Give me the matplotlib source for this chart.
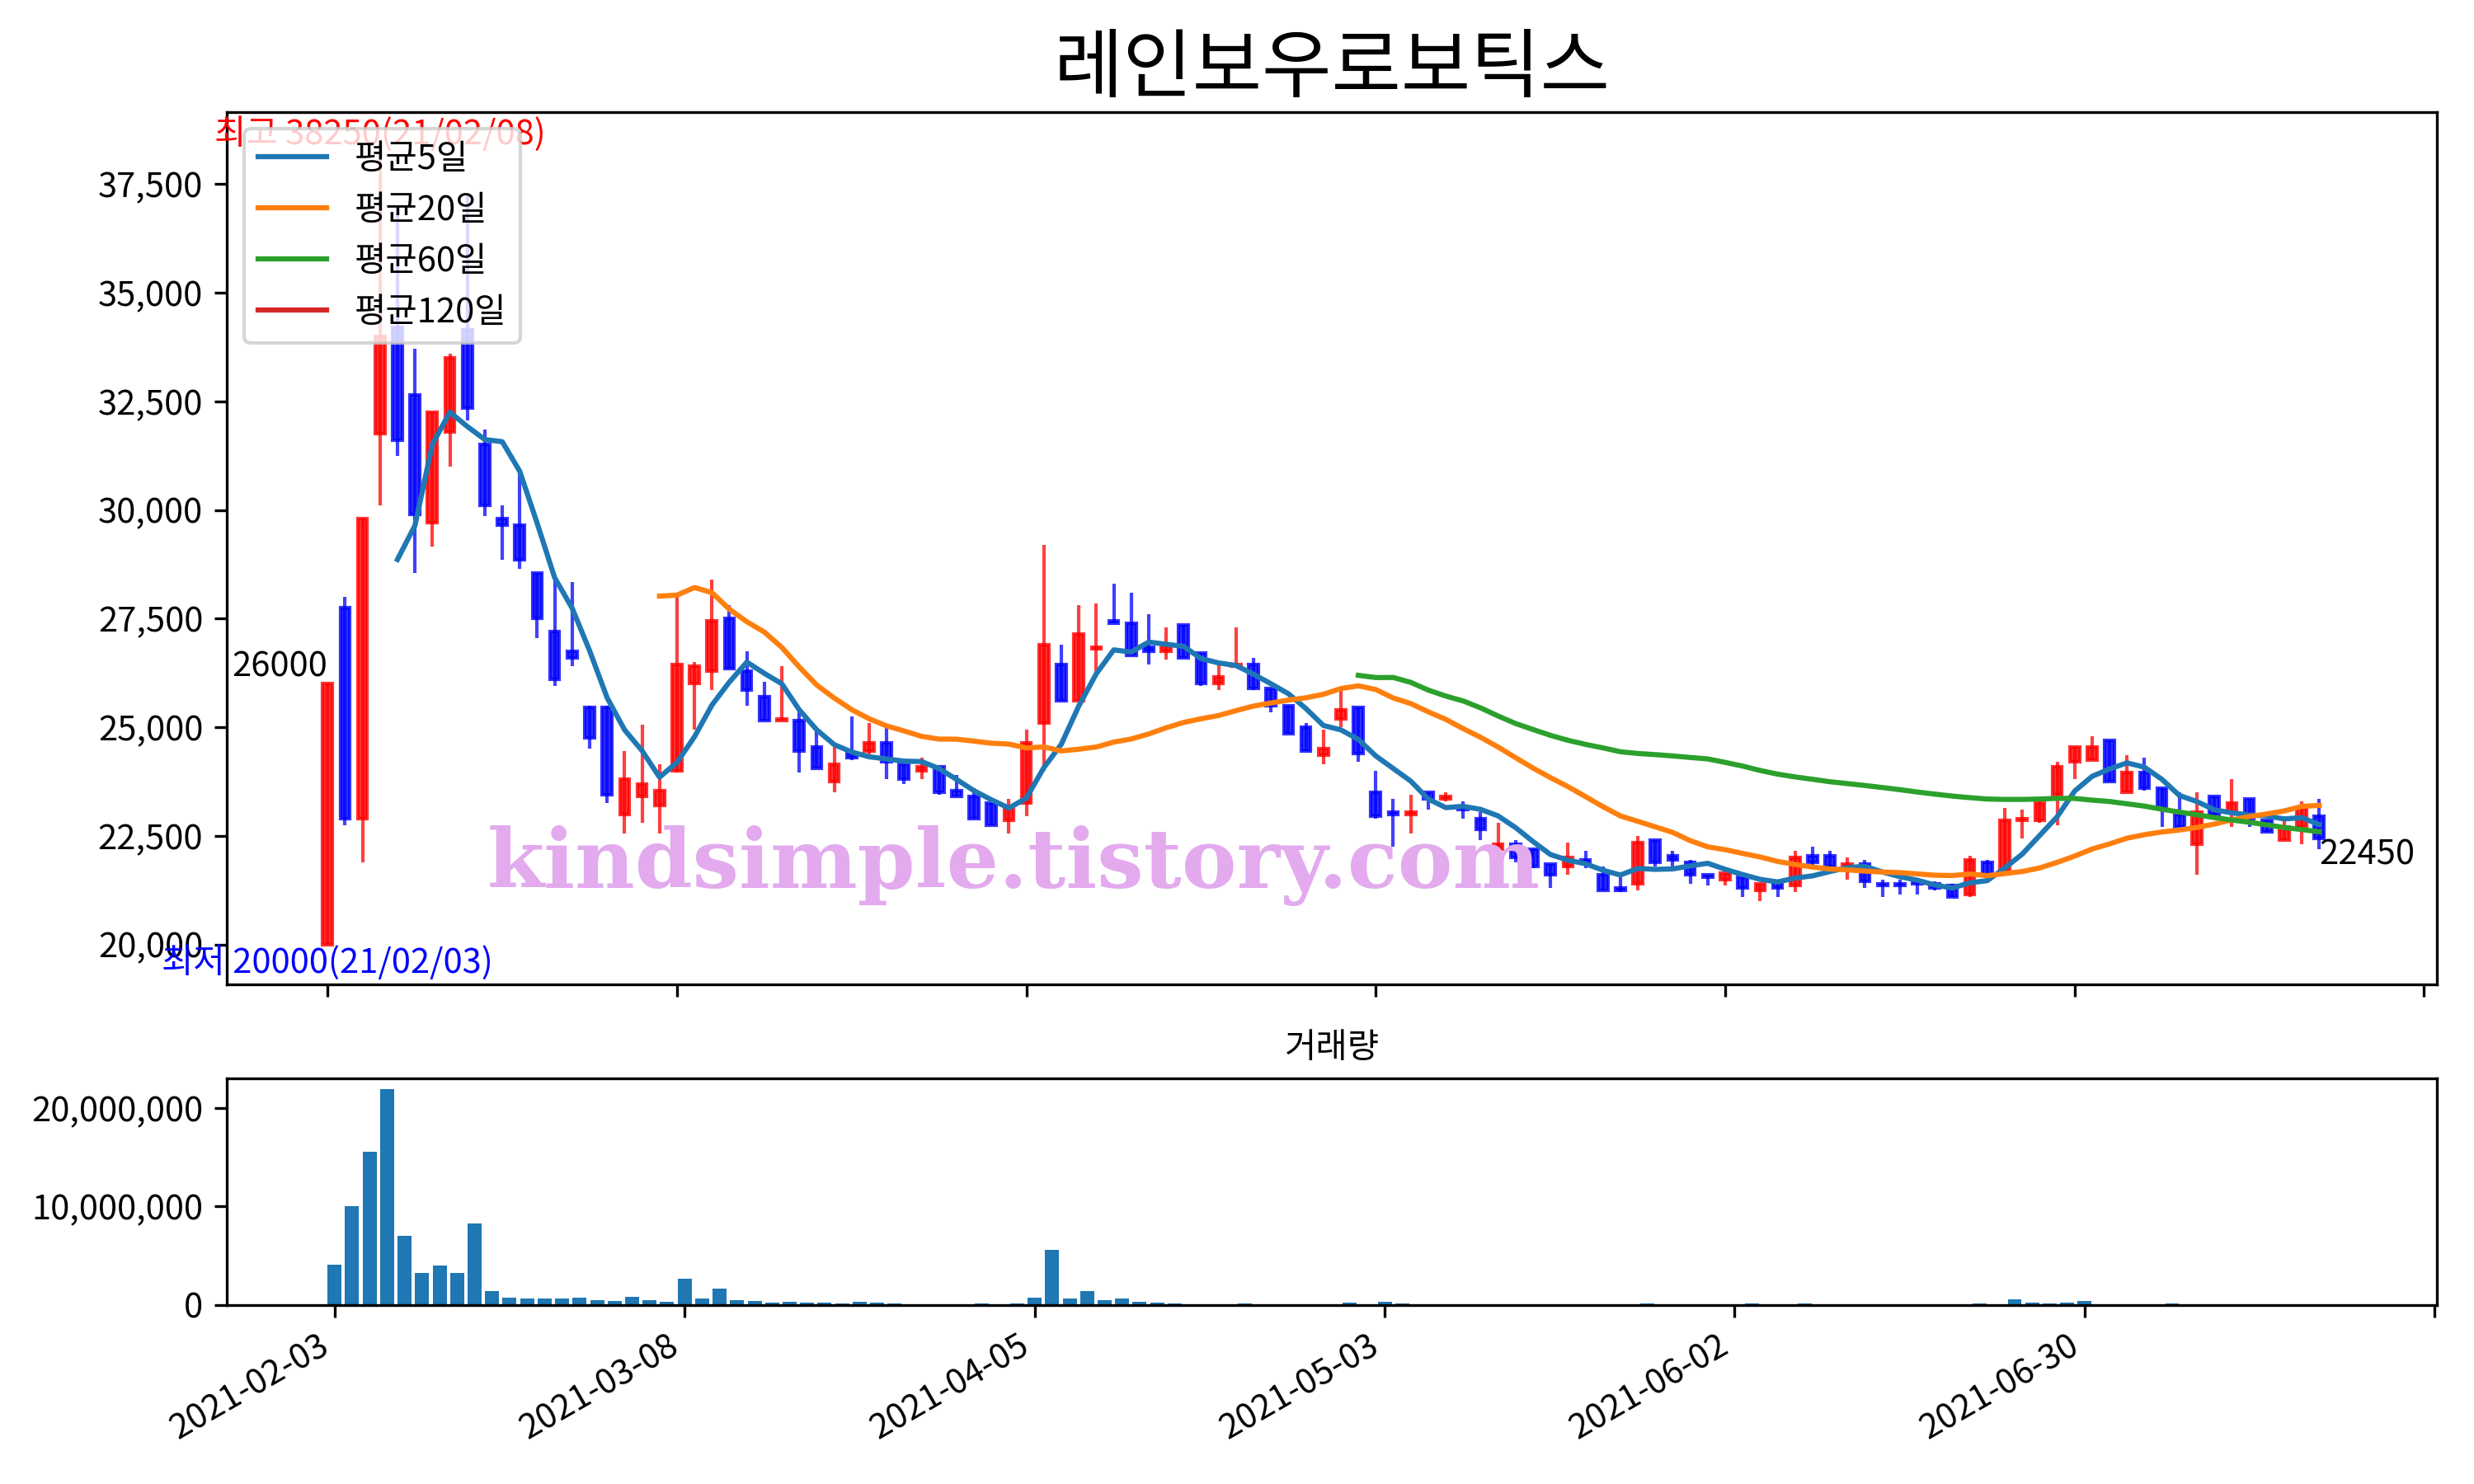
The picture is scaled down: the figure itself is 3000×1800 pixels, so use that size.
import matplotlib
matplotlib.use('Agg')
import matplotlib.pyplot as plt
import matplotlib.ticker as ticker
import numpy as np
import pandas as pd

plt.rcParams['font.family'] = ['Noto Sans CJK KR', 'DejaVu Sans']
plt.rcParams['axes.unicode_minus'] = False

title = '레인보우로보틱스'
holidays = ['2021-02-11', '2021-02-12', '2021-03-01', '2021-05-05', '2021-05-19']
dates = pd.bdate_range('2021-02-03', '2021-07-20')
dates = dates[~dates.isin(pd.to_datetime(holidays))]

# 시가, 고가, 저가, 종가
opens = [20000, 27750, 22900, 31750, 34200, 32650, 29700, 31800, 34150, 31500,
         29800, 29650, 28550, 27200, 26750, 25450, 25450, 23000, 23400, 23200,
         24000, 26000, 26300, 27500, 26300, 25700, 25150, 25150, 24550, 23750,
         24400, 24450, 24650, 24150, 24000, 24100, 23550, 23400, 23250, 22850,
         23250, 25100, 26450, 25600, 26800, 27450, 27400, 26850, 26750, 27350,
         26700, 26000, 26400, 26450, 25900, 25500, 25000, 24350, 25200, 25450,
         23500, 23050, 23000, 23500, 23350, 23150, 22900, 22200, 22300, 22200,
         21850, 21800, 21950, 21600, 21300, 21400, 22400, 22050, 21900, 21600,
         21500, 21550, 21250, 21450, 21350, 22050, 22050, 21800, 21850, 21400,
         21400, 21450, 21400, 21350, 21150, 21900, 21700, 22850, 22850, 23450,
         24200, 24250, 24700, 23500, 23950, 23600, 23000, 22300, 23400, 23050,
         23350, 22850, 22400, 22700, 22950]
highs = [26000, 28000, 29800, 38250, 37000, 33700, 32250, 33600, 37250, 31850,
         30100, 30850, 28550, 28500, 28350, 25500, 25500, 24450, 25050, 24150,
         28050, 26500, 28400, 27800, 26750, 26050, 26400, 25400, 24950, 24550,
         25250, 25100, 25050, 24150, 24300, 24100, 23900, 23600, 23250, 23350,
         24950, 29200, 26900, 27800, 27850, 28300, 28100, 27600, 27300, 27350,
         26700, 26450, 27300, 26600, 25900, 25500, 25100, 24950, 25850, 25450,
         24000, 23350, 23450, 23500, 23500, 23300, 23050, 22800, 22400, 22200,
         21850, 22350, 22150, 21800, 21550, 22500, 22400, 22150, 21950, 21600,
         21650, 21550, 21400, 21450, 22150, 22250, 22150, 22000, 21950, 21500,
         21500, 21500, 21450, 21400, 22050, 21950, 23150, 23100, 23350, 24200,
         24550, 24800, 24700, 24350, 24300, 23600, 23500, 23500, 23400, 23800,
         23350, 22850, 22900, 23300, 23350]
lows = [20000, 22750, 21900, 30100, 31250, 28550, 29150, 31000, 32050, 29850,
        28850, 28650, 27050, 25950, 26400, 24500, 23250, 22550, 22800, 22550,
        23950, 24950, 25850, 26350, 25500, 25150, 25150, 23950, 24050, 23500,
        24250, 24300, 23800, 23700, 23800, 23450, 23400, 22900, 22750, 22550,
        22950, 24000, 25600, 25600, 26300, 27400, 26650, 26450, 26550, 26600,
        25950, 25850, 26400, 25850, 25350, 24850, 24450, 24150, 25000, 24200,
        22900, 22250, 22550, 23100, 23300, 22900, 22400, 22150, 21900, 21750,
        21300, 21600, 21750, 21250, 21200, 21250, 21800, 21800, 21400, 21350,
        21350, 21100, 21000, 21100, 21200, 21750, 21800, 21500, 21300, 21100,
        21150, 21150, 21250, 21100, 21100, 21600, 21700, 22450, 22800, 22750,
        23800, 24250, 23750, 23500, 23550, 22700, 22700, 21600, 22950, 22700,
        22700, 22600, 22400, 22300, 22200]
closes = [26000, 22900, 29800, 34000, 31600, 29900, 32250, 33500, 32350, 30100,
          29650, 28850, 27500, 26100, 26600, 24750, 23450, 23800, 23700, 23550,
          26450, 26400, 27450, 26350, 25850, 25150, 25200, 24450, 24050, 24150,
          24300, 24650, 24200, 23800, 24100, 23500, 23400, 22900, 22750, 23150,
          24650, 26900, 25600, 27150, 26850, 27400, 26650, 26750, 26900, 26600,
          26000, 26150, 26450, 25900, 25500, 24850, 24450, 24500, 25400, 24400,
          22950, 23000, 23050, 23350, 23400, 23100, 22650, 22300, 22000, 21800,
          21600, 22000, 21900, 21250, 21250, 22350, 21900, 21950, 21600, 21550,
          21650, 21300, 21400, 21300, 22000, 21900, 21800, 21850, 21450, 21350,
          21350, 21400, 21300, 21100, 21950, 21600, 22850, 22900, 23250, 24100,
          24550, 24550, 23750, 23950, 23600, 23150, 22700, 23050, 23000, 23250,
          22900, 22600, 22700, 23150, 22450]
volumes = [4100000, 10000000, 15600000, 22000000, 7000000, 3200000, 4000000, 3200000, 8300000, 1400000,
           700000, 620000, 620000, 620000, 700000, 450000, 370000, 790000, 450000, 280000,
           2640000, 620000, 1630000, 450000, 370000, 200000, 280000, 200000, 200000, 110000,
           280000, 200000, 110000, 60000, 50000, 50000, 40000, 110000, 50000, 110000,
           700000, 5560000, 620000, 1380000, 450000, 620000, 280000, 200000, 110000, 60000,
           50000, 50000, 110000, 50000, 50000, 50000, 50000, 50000, 200000, 60000,
           280000, 110000, 40000, 40000, 40000, 40000, 40000, 40000, 40000, 40000,
           40000, 40000, 40000, 40000, 40000, 110000, 40000, 40000, 40000, 40000,
           40000, 110000, 40000, 40000, 110000, 40000, 40000, 40000, 40000, 40000,
           40000, 40000, 40000, 40000, 110000, 40000, 530000, 200000, 110000, 200000,
           370000, 50000, 50000, 50000, 50000, 110000, 40000, 40000, 40000, 40000,
           40000, 40000, 40000, 40000, 40000]
ma_windows = [5, 20, 60, 120]

df = pd.DataFrame({'open': opens, 'high': highs, 'low': lows, 'close': closes,
                   'volume': volumes}, index=dates)
x = np.arange(len(df))

fig = plt.figure(figsize=(10, 6), dpi=300)
ax = fig.add_axes([0.0918, 0.3368, 0.8933, 0.5879])
ax2 = fig.add_axes([0.0918, 0.1208, 0.8933, 0.1528])

# 캔들 (상승 빨강, 하락 파랑)
up = df['close'] >= df['open']
colors = np.where(up, 'r', 'b')
body_low = np.minimum(df['open'], df['close'])
body_h = (df['close'] - df['open']).abs()
ax.vlines(x, df['low'], df['high'], colors=colors, linewidth=1.0, alpha=0.75)
ax.bar(x, body_h, bottom=body_low, width=0.55, color=colors,
       edgecolor=colors, linewidth=1.0, alpha=0.8)

for w in ma_windows:
    ax.plot(x, df['close'].rolling(w).mean(), label='평균%d일' % w)

ax.use_sticky_edges = False
ax.set_xlim(-5.75, 120.75)
ax.legend(loc='upper left')
ax.set_title(title, fontsize=22)
ax.yaxis.set_major_formatter(ticker.StrMethodFormatter('{x:,.0f}'))

imax = int(np.argmax(df['high']))
imin = int(np.argmin(df['low']))
ax.text(imax, df['high'].iloc[imax],
        '최고 %d(%s)' % (df['high'].iloc[imax], dates[imax].strftime('%y/%m/%d')),
        color='r', ha='center', va='bottom')
ax.text(imin, df['low'].iloc[imin],
        '최저 %d(%s)' % (df['low'].iloc[imin], dates[imin].strftime('%y/%m/%d')),
        color='b', ha='center', va='top')
ax.text(0, df['close'].iloc[0], '%d' % df['close'].iloc[0], ha='right', va='bottom')
ax.text(x[-1], df['close'].iloc[-1], '%d' % df['close'].iloc[-1], ha='left', va='top')

ax.text(0.356, 0.11, 'kindsimple.tistory.com', transform=ax.transAxes,
        fontsize=24, fontweight='heavy', family='DejaVu Serif',
        color='#E3AAEE', ha='center', va='baseline', zorder=10)

# 거래량
ax2.bar(x, df['volume'])
ax2.set_title('거래량', fontsize=10)
ax2.set_yticks([0, 10000000, 20000000])
ax2.yaxis.set_major_formatter(ticker.StrMethodFormatter('{x:,.0f}'))

tick_pos = list(range(0, 121, 20))
ax.set_xticks(tick_pos)
ax.set_xticklabels([])
ax2.set_xticks(tick_pos)
ax2.set_xticklabels([dates[i].strftime('%Y-%m-%d') if i < len(dates) else ''
                     for i in tick_pos], rotation=30, ha='right')

plt.savefig('out.png')
